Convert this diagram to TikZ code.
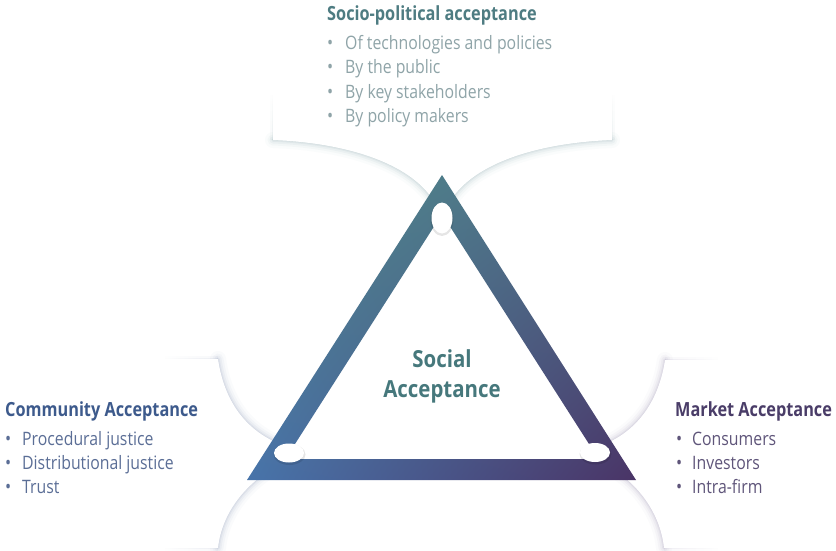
\documentclass[tikz,border=0pt]{standalone}
\usepackage{fontspec}
\setmainfont{Open Sans}
\newfontfamily\fb[FakeStretch=0.835]{Open Sans}
\newfontfamily\fc[FakeStretch=0.87]{Open Sans}
\newfontfamily\fr[FakeStretch=0.855]{Open Sans}
\usetikzlibrary{fadings,shadings}
\definecolor{ttl}{HTML}{4E7C82}
\definecolor{tbul}{HTML}{8FA4A8}
\definecolor{ltl}{HTML}{3D5A8C}
\definecolor{lbul}{HTML}{5B6E96}
\definecolor{rtl}{HTML}{4A3D68}
\definecolor{rbul}{HTML}{5F557A}
\definecolor{ctr}{HTML}{46787C}
\definecolor{shT}{HTML}{7FA0A4}
\definecolor{shL}{HTML}{7F8CB0}
\definecolor{shR}{HTML}{8F84AC}
\definecolor{gTL}{HTML}{4F8C8E}
\definecolor{gTR}{HTML}{4E6C84}
\definecolor{gBL}{HTML}{4874AA}
\definecolor{gBR}{HTML}{4A3466}
\newcommand\softline[2]{%
  \draw[#1,line width=16pt,opacity=0.03,line cap=round] #2;
  \draw[#1,line width=11pt,opacity=0.05,line cap=round] #2;
  \draw[#1,line width=7pt,opacity=0.07,line cap=round] #2;
  \draw[#1,line width=3.5pt,opacity=0.10,line cap=round] #2;
  \draw[#1,line width=1.2pt,opacity=0.12,line cap=round] #2;}
\tikzset{
  ttxt/.style={anchor=base west,inner sep=0pt,font=\fb\bfseries\fontsize{19.5}{22}\selectfont},
  btxt/.style={anchor=base west,inner sep=0pt,font=\fr\fontsize{18.5}{22}\selectfont},
  bdot/.style={anchor=base west,inner sep=0pt,font=\fr\fontsize{19}{22}\selectfont},
  oval/.style={fill=white},
  ovsh/.style={fill=black,opacity=0.10}
}
\begin{document}
\begin{tikzpicture}[x=1pt,y=-1pt]
\useasboundingbox (0,0) rectangle (836,551);
\fill[white] (0,0) rectangle (836,551);

% ---- callout shadows ----
% top
\softline{shT}{(273,140) .. controls (350,143) and (415,165) .. (436,205)}
\softline{shT}{(612,140) .. controls (534,143) and (469,165) .. (448,205)}
\draw[shT,line width=6pt,opacity=0.06,path fading=north] (273,95) -- (273,140);
\draw[shT,line width=2pt,opacity=0.10,path fading=north] (273,95) -- (273,140);
\draw[shT,line width=6pt,opacity=0.06,path fading=north] (612,95) -- (612,140);
\draw[shT,line width=2pt,opacity=0.10,path fading=north] (612,95) -- (612,140);
\fill[white] (273,90) -- (273,140) .. controls (350,143) and (415,165) .. (436,205)
  -- (448,205) .. controls (469,165) and (534,143) .. (612,140) -- (612,90) -- cycle;
% left
\softline{shL}{(218,359) .. controls (224,400) and (245,432) .. (285,446)}
\softline{shL}{(285,462) .. controls (250,478) and (222,510) .. (218,548)}
\draw[shL,line width=6pt,opacity=0.06,path fading=west] (165,359) -- (218,359);
\draw[shL,line width=2pt,opacity=0.10,path fading=west] (165,359) -- (218,359);
\draw[shL,line width=6pt,opacity=0.06,path fading=west] (165,548) -- (218,548);
\draw[shL,line width=2pt,opacity=0.10,path fading=west] (165,548) -- (218,548);
\fill[white] (150,359) -- (218,359) .. controls (224,400) and (245,432) .. (285,446)
  -- (285,462) .. controls (250,478) and (222,510) .. (218,548) -- (150,548) -- cycle;
% right
\softline{shR}{(665,360) .. controls (659,400) and (638,432) .. (600,446)}
\softline{shR}{(600,462) .. controls (634,478) and (660,510) .. (664,548)}
\draw[shR,line width=6pt,opacity=0.06,path fading=east] (665,360) -- (718,360);
\draw[shR,line width=2pt,opacity=0.10,path fading=east] (665,360) -- (718,360);
\draw[shR,line width=6pt,opacity=0.06,path fading=east] (664,548) -- (718,548);
\draw[shR,line width=2pt,opacity=0.10,path fading=east] (664,548) -- (718,548);
\fill[white] (730,360) -- (665,360) .. controls (659,400) and (638,432) .. (600,446)
  -- (600,462) .. controls (634,478) and (660,510) .. (664,548) -- (730,548) -- cycle;

% ---- triangle band ----
\shade[upper left=gTL,upper right=gTR,lower left=gBL,lower right=gBR,even odd rule]
  (442,175) -- (247,480) -- (636,480) -- cycle
  (442,214) -- (285.4,459) -- (598.6,459) -- cycle;

% ---- ovals ----
\fill[ovsh] (442,219.5) ellipse [x radius=11.5,y radius=16.5];
\fill[oval] (442,218) ellipse [x radius=10.5,y radius=15.5];
\fill[ovsh] (289.5,454.5) ellipse [x radius=16,y radius=10.5];
\fill[oval] (289,453) ellipse [x radius=15,y radius=9.5];
\fill[ovsh] (595.5,454) ellipse [x radius=16,y radius=10.5];
\fill[oval] (595,452.5) ellipse [x radius=15,y radius=9.5];

% ---- centre text ----
\node[inner sep=0pt,anchor=base,text=ctr,font=\fc\bfseries\fontsize{23.5}{26}\selectfont] (c1) at (442,367) {Social};
\node[inner sep=0pt,anchor=base,text=ctr,font=\fc\bfseries\fontsize{23.5}{26}\selectfont] (c2) at (442,397) {Acceptance};

% ---- top text ----
\node[ttxt,text=ttl] (t0) at (327,21) {Socio-political acceptance};
\node[bdot,text=tbul] (td1) at (327,50) {•};
\node[btxt,text=tbul] (t1) at (345,50) {Of technologies and policies};
\node[bdot,text=tbul] (td2) at (327,74) {•};
\node[btxt,text=tbul] (t2) at (345,74) {By the public};
\node[bdot,text=tbul] (td3) at (327,98.5) {•};
\node[btxt,text=tbul] (t3) at (345,98.5) {By key stakeholders};
\node[bdot,text=tbul] (td4) at (327,122.5) {•};
\node[btxt,text=tbul] (t4) at (345,122.5) {By policy makers};

% ---- left text ----
\node[ttxt,text=ltl] (l0) at (5,416) {Community Acceptance};
\node[bdot,text=lbul] (ld1) at (5,445) {•};
\node[btxt,text=lbul] (l1) at (22,445) {Procedural justice};
\node[bdot,text=lbul] (ld2) at (5,469) {•};
\node[btxt,text=lbul] (l2) at (22,469) {Distributional justice};
\node[bdot,text=lbul] (ld3) at (5,493) {•};
\node[btxt,text=lbul] (l3) at (22,493) {Trust};

% ---- right text ----
\node[ttxt,text=rtl] (r0) at (675,416) {Market Acceptance};
\node[bdot,text=rbul] (rd1) at (676,445) {•};
\node[btxt,text=rbul] (r1) at (692,445) {Consumers};
\node[bdot,text=rbul] (rd2) at (676,469) {•};
\node[btxt,text=rbul] (r2) at (692,469) {Investors};
\node[bdot,text=rbul] (rd3) at (676,493) {•};
\node[btxt,text=rbul] (r3) at (692,493) {Intra-firm};
\end{tikzpicture}
\end{document}
